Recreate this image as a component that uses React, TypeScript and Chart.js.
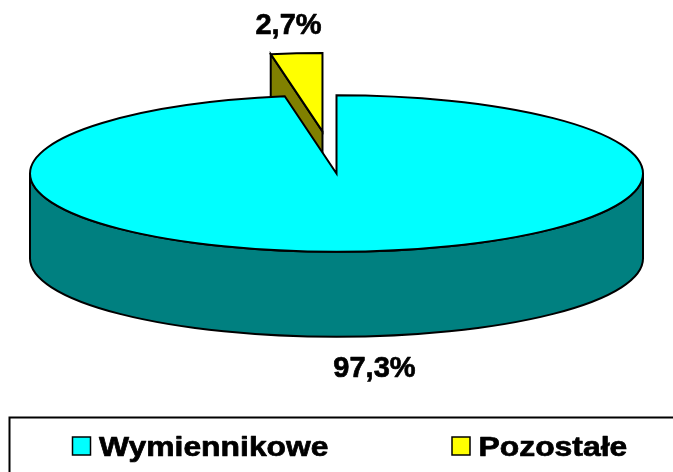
import React, { useEffect, useRef } from 'react';
import { Chart, registerables } from 'chart.js';

Chart.register(...registerables);

// ---- data ----
const categories = ['Wymiennikowe', 'Pozostałe'];
const shares = [97.3, 2.7];
const explode = [0, 0.54]; // fraction of radius each slice is pulled out
const topColors = ['#00FFFF', '#FFFF00'];
const sideColors = ['#008080', '#808000'];

// ---- style / geometry constants ----
const W = 673;
const H = 472;
const RADIUS = 306.5;
const TILT = 0.2555;
const DEPTH = 85;
const LABEL_DIST = 1.385;
const FONT = '"Liberation Sans", Arial, Helvetica, sans-serif';
const LABEL_SIZE = 29;
const LEGEND_SIZE = 27;
const LEGEND_STRETCH = 1.18;
const TEXT_WEIGHT = 0.7;

const fmt = (v: number) => v.toFixed(1).replace('.', ',') + '%';

function centerY(chart: any) {
  const a = chart.chartArea;
  return (a.top + a.bottom) / 2;
}

function screenCenter(el: any, cy: number) {
  return { x: el.x, y: cy + (el.y - cy) * TILT };
}

function heavyText(ctx: CanvasRenderingContext2D, t: string, x: number, y: number) {
  ctx.fillText(t, x, y);
  ctx.lineWidth = TEXT_WEIGHT;
  ctx.strokeStyle = '#000';
  ctx.lineJoin = 'round';
  ctx.strokeText(t, x, y);
}

const pie3d = {
  id: 'pie3d',
  afterDatasetUpdate(chart: any, args: any) {
    const meta = args.meta;
    meta.data.forEach((el: any, i: number) => {
      const f = explode[i] || 0;
      if (!f) return;
      const mid = (el.startAngle + el.endAngle) / 2;
      el.x += Math.cos(mid) * f * el.outerRadius;
      el.y += Math.sin(mid) * f * el.outerRadius;
    });
  },
  beforeDatasetsDraw(chart: any) {
    const ctx: CanvasRenderingContext2D = chart.ctx;
    const cy = centerY(chart);
    const meta = chart.getDatasetMeta(0);
    const items = meta.data.map((el: any, i: number) => ({ el, i }));
    // paint back-most slices first
    items.sort((a: any, b: any) => a.el.y - b.el.y);
    ctx.save();
    ctx.lineWidth = 2;
    ctx.strokeStyle = '#000';
    ctx.lineJoin = 'miter';
    for (const { el, i } of items) {
      const c = screenCenter(el, cy);
      const R = el.outerRadius;
      const ry = R * TILT;
      const s = el.startAngle;
      const e = el.endAngle;
      ctx.fillStyle = sideColors[i];
      // outer wall, visible on the front half (0..PI)
      for (let n = -1; n <= 2; n++) {
        const lo = Math.max(s, 2 * Math.PI * n);
        const hi = Math.min(e, Math.PI + 2 * Math.PI * n);
        if (hi - lo > 1e-6) {
          ctx.beginPath();
          ctx.ellipse(c.x, c.y, R, ry, 0, lo, hi, false);
          ctx.ellipse(c.x, c.y + DEPTH, R, ry, 0, hi, lo, true);
          ctx.closePath();
          ctx.fill();
          ctx.stroke();
        }
      }
      // radial cut faces that face the viewer
      const faces: number[] = [];
      if (Math.cos(s) < -1e-3) faces.push(s);
      if (Math.cos(e) > 1e-3) faces.push(e);
      for (const a of faces) {
        const px = c.x + R * Math.cos(a);
        const py = c.y + ry * Math.sin(a);
        ctx.beginPath();
        ctx.moveTo(c.x, c.y);
        ctx.lineTo(px, py);
        ctx.lineTo(px, py + DEPTH);
        ctx.lineTo(c.x, c.y + DEPTH);
        ctx.closePath();
        ctx.fill();
        ctx.stroke();
      }
    }
    ctx.restore();
    // squash the library's own slice drawing into the tilted top face
    ctx.save();
    ctx.translate(0, cy);
    ctx.scale(1, TILT);
    ctx.translate(0, -cy);
  },
  afterDatasetsDraw(chart: any) {
    const ctx: CanvasRenderingContext2D = chart.ctx;
    ctx.restore();
    const cy = centerY(chart);
    const meta = chart.getDatasetMeta(0);
    const values = chart.data.datasets[0].data as number[];
    ctx.save();
    ctx.lineWidth = 2;
    ctx.strokeStyle = '#000';
    meta.data.forEach((el: any) => {
      const c = screenCenter(el, cy);
      const R = el.outerRadius;
      ctx.beginPath();
      ctx.moveTo(c.x, c.y);
      ctx.ellipse(c.x, c.y, R, R * TILT, 0, el.startAngle, el.endAngle, false);
      ctx.closePath();
      ctx.stroke();
    });
    ctx.fillStyle = '#000';
    ctx.font = `bold ${LABEL_SIZE}px ${FONT}`;
    ctx.textAlign = 'center';
    ctx.textBaseline = 'alphabetic';
    const cap = LABEL_SIZE * 0.716;
    meta.data.forEach((el: any, i: number) => {
      const c = screenCenter(el, cy);
      const R = el.outerRadius;
      const mid = (el.startAngle + el.endAngle) / 2;
      const ax = c.x + Math.cos(mid) * R * LABEL_DIST;
      let ay = c.y + Math.sin(mid) * R * TILT * LABEL_DIST;
      if (Math.sin(mid) > 0) ay += DEPTH;
      heavyText(ctx, fmt(values[i]), ax + 2, ay + cap / 2);
    });
    ctx.restore();
  },
  afterDraw(chart: any) {
    const ctx: CanvasRenderingContext2D = chart.ctx;
    const labels = chart.data.labels as string[];
    const colors = chart.data.datasets[0].backgroundColor as string[];
    ctx.save();
    ctx.strokeStyle = '#000';
    ctx.lineWidth = 2;
    ctx.strokeRect(9.5, 417.5, W + 40, 100);
    ctx.font = `bold ${LEGEND_SIZE}px ${FONT}`;
    ctx.textAlign = 'left';
    ctx.textBaseline = 'alphabetic';
    labels.forEach((lab, i) => {
      const x = 72.5 + i * 379.5;
      ctx.fillStyle = colors[i];
      ctx.fillRect(x, 437, 18, 18);
      ctx.lineWidth = 1.5;
      ctx.strokeStyle = '#000';
      ctx.strokeRect(x, 437, 18, 18);
      ctx.save();
      ctx.translate(x + 26.5, 456);
      ctx.scale(LEGEND_STRETCH, 1);
      ctx.fillStyle = '#000';
      heavyText(ctx, lab, 0, 0);
      ctx.restore();
    });
    ctx.restore();
  },
};

export default function App() {
  const ref = useRef<HTMLCanvasElement | null>(null);
  useEffect(() => {
    if (!ref.current) return;
    const chart = new Chart(ref.current, {
      type: 'pie',
      data: {
        labels: categories,
        datasets: [
          {
            data: shares,
            backgroundColor: topColors,
            borderWidth: 0,
            hoverOffset: 0,
            clip: false,
          } as any,
        ],
      },
      options: {
        responsive: false,
        maintainAspectRatio: false,
        animation: false,
        events: [],
        radius: RADIUS,
        layout: { padding: { left: 0, right: 0, top: 0, bottom: H - 2 * 173.5 } },
        plugins: {
          legend: { display: false },
          tooltip: { enabled: false },
        },
      } as any,
      plugins: [pie3d as any],
    });
    return () => chart.destroy();
  }, []);
  return (
    <div style={{ position: 'fixed', left: 0, top: 0, width: W, height: H, background: '#fff' }}>
      <canvas ref={ref} width={W} height={H} style={{ display: 'block', width: W, height: H }} />
    </div>
  );
}
